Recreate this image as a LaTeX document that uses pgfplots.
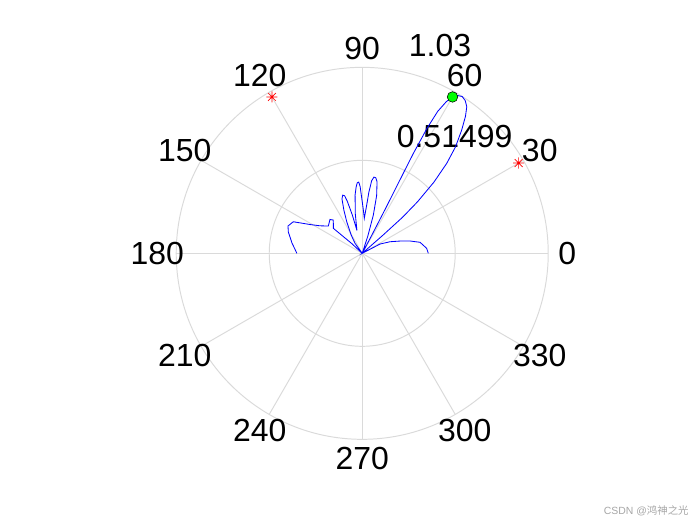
\documentclass[border=0pt]{standalone}
\usepackage{pgfplots}
\pgfplotsset{compat=1.18}
\usepgfplotslibrary{polar}
\usepackage{fontspec}
\setmainfont{Liberation Sans}
\newfontfamily\cjk{Noto Sans CJK SC}
\definecolor{gridc}{RGB}{218,218,218}
\definecolor{mblue}{RGB}{0,0,255}
\pgfdeclareplotmark{star8}{%
  \pgfpathmoveto{\pgfqpoint{-\pgfplotmarksize}{0pt}}\pgfpathlineto{\pgfqpoint{\pgfplotmarksize}{0pt}}%
  \pgfpathmoveto{\pgfqpoint{0pt}{-\pgfplotmarksize}}\pgfpathlineto{\pgfqpoint{0pt}{\pgfplotmarksize}}%
  \pgfpathmoveto{\pgfqpoint{-0.707\pgfplotmarksize}{-0.707\pgfplotmarksize}}\pgfpathlineto{\pgfqpoint{0.707\pgfplotmarksize}{0.707\pgfplotmarksize}}%
  \pgfpathmoveto{\pgfqpoint{-0.707\pgfplotmarksize}{0.707\pgfplotmarksize}}\pgfpathlineto{\pgfqpoint{0.707\pgfplotmarksize}{-0.707\pgfplotmarksize}}%
  \pgfusepathqstroke}
\begin{document}
\begin{tikzpicture}
\useasboundingbox (0,0) rectangle (504pt,378pt);
\begin{scope}[shift={(260.8pt,195.6pt)}]
  \draw[gridc, line width=0.7pt] (0,0) circle[radius=133.92pt];
  \draw[gridc, line width=0.7pt] (0,0) circle[radius=66.96pt];
  \foreach \a in {0,30,60,90,120,150} {
    \draw[gridc, line width=0.7pt] (\a:133.92pt) -- (\a+180:133.92pt);
  }
  \foreach \a in {0,30,60,90,120,150,180,210,240,270,300,330} {
    \node[inner sep=0pt, font=\fontsize{23}{27}\selectfont] at (\a:147.6pt) {\a};
  }
  \node[inner sep=0pt, font=\fontsize{23}{27}\selectfont] at (56.0pt,149.4pt) {1.03};
  \node[inner sep=0pt, font=\fontsize{23}{27}\selectfont] at (66.5pt,84.1pt) {0.51499};
\end{scope}
\begin{axis}[anchor=origin, at={(260.8pt,195.6pt)}, x=130.02pt, y=130.02pt,
  xmin=-1.4, xmax=1.4, ymin=-1.4, ymax=1.4, axis lines=none, clip=false]
\addplot[mblue, line width=0.6pt, data cs=polar] coordinates {
(0,0.366) (4.4,0.358) (10.8,0.326) (14.4,0.274) (18,0.220) (22.6,0.167) (27.6,0.111) (29.5,0)
(41,0) (41.2,0.15) (41.8,0.30) (43,0.42) (44.8,0.56) (46.8,0.684) (48.8,0.785) (51.1,0.877) (53,0.95) (54.5,0.997) (56,1.02) (57.5,1.03) (59,1.02) (60,1.0) (61,0.96) (62,0.89) (62.6,0.78) (62.9,0.62) (62.8,0.45) (62.5,0.28) (62.2,0.12) (62,0)
(70,0) (72,0.10) (73.8,0.221) (76,0.33) (78.3,0.405) (79.8,0.425) (81.3,0.427) (82.6,0.405) (83.8,0.34) (84.7,0.269) (86.6,0.194)
(88.5,0.24) (90.5,0.305) (91.8,0.37) (92.8,0.395) (94,0.392) (95.2,0.37) (97,0.325) (100,0.22) (103,0.13)
(104.5,0.22) (106,0.30) (107,0.333) (108.5,0.34) (110.4,0.322) (113,0.26) (116.1,0.195) (121,0.12) (125.8,0.068) (128,0)
(137,0.08) (139.1,0.2115) (131,0.244) (133.6,0.259) (141.2,0.241) (147,0.28) (151.1,0.330) (155.4,0.420) (159.8,0.438) (163.9,0.426) (171.7,0.393) (176,0.375) (180,0.362)
};
\addplot[only marks, red, mark=star8, mark size=4pt, line width=0.5pt, data cs=polar] coordinates {(30,1) (120,1)};
\addplot[only marks, mark=*, mark size=3.8pt, mark options={fill=green, draw=black, line width=0.4pt}, data cs=polar] coordinates {(60,1)};
\end{axis}
\node[anchor=east, inner sep=0pt, text=gray!70, font=\fontsize{7.5}{9}\selectfont] at (496pt,10pt) {CSDN @\cjk{鸿神之光}};
\end{tikzpicture}
\end{document}
